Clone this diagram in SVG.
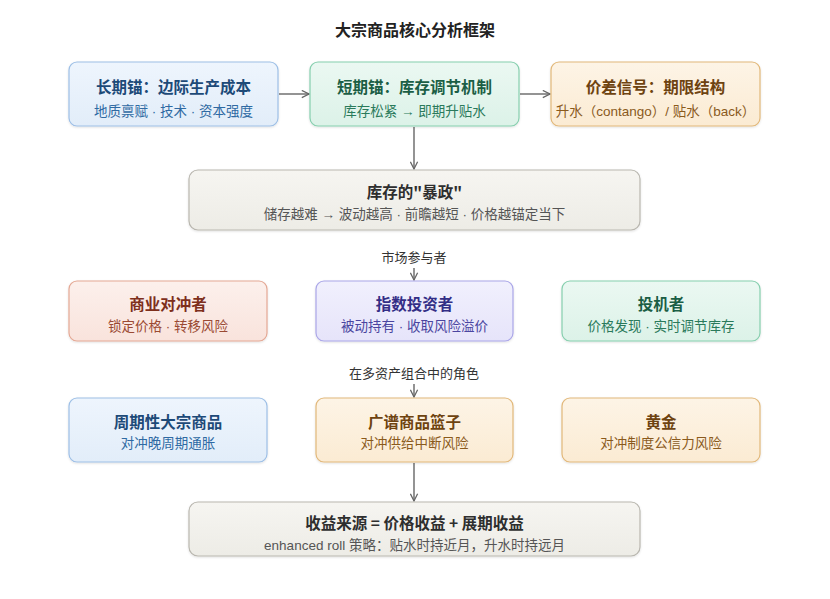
<svg xmlns="http://www.w3.org/2000/svg" width="830" height="599" viewBox="0 0 830 599">
<defs>
<marker id="arr" viewBox="0 0 10 10" refX="9" refY="5" markerWidth="9" markerHeight="9" markerUnits="userSpaceOnUse" orient="auto">
<path d="M1,1 L9,5 L1,9" fill="none" stroke="#666" stroke-width="1.4"/>
</marker>
<filter id="sh" x="-5%" y="-10%" width="110%" height="130%">
<feDropShadow dx="0" dy="1" stdDeviation="1.2" flood-color="#000" flood-opacity="0.12"/>
</filter>
<linearGradient id="gb" x1="0" y1="0" x2="0" y2="1"><stop offset="0" stop-color="#eef5fd"/><stop offset="1" stop-color="#e2edf9"/></linearGradient>
<linearGradient id="gg" x1="0" y1="0" x2="0" y2="1"><stop offset="0" stop-color="#ebf8f2"/><stop offset="1" stop-color="#dcf2e8"/></linearGradient>
<linearGradient id="go" x1="0" y1="0" x2="0" y2="1"><stop offset="0" stop-color="#fdf4e6"/><stop offset="1" stop-color="#fbebd3"/></linearGradient>
<linearGradient id="gy" x1="0" y1="0" x2="0" y2="1"><stop offset="0" stop-color="#f6f5f1"/><stop offset="1" stop-color="#edece6"/></linearGradient>
<linearGradient id="gr" x1="0" y1="0" x2="0" y2="1"><stop offset="0" stop-color="#fcf0ec"/><stop offset="1" stop-color="#f9e3dc"/></linearGradient>
<linearGradient id="gp" x1="0" y1="0" x2="0" y2="1"><stop offset="0" stop-color="#f1f0fd"/><stop offset="1" stop-color="#e6e4fa"/></linearGradient>
</defs>
<style>
text{font-family:"Noto Sans CJK SC","Noto Sans",sans-serif;text-anchor:middle}
.t{font-size:15.5px;font-weight:700}
.s{font-size:13.5px;font-family:"Liberation Sans","Noto Sans CJK SC",sans-serif}
.lab{font-size:13px;fill:#333}
.box{stroke-width:1.2;filter:url(#sh)}
.blue rect{fill:url(#gb);stroke:#9dbfe6}.blue .t{fill:#1d4a78}.blue .s{fill:#2f6aa3}
.green rect{fill:url(#gg);stroke:#86cfae}.green .t{fill:#1b5e45}.green .s{fill:#2a7a5b}
.orange rect{fill:url(#go);stroke:#e2b87a}.orange .t{fill:#6e4310}.orange .s{fill:#8a5a1c}
.gray rect{fill:url(#gy);stroke:#b9b7af}.gray .t{fill:#2e2e2e}.gray .s{fill:#555}
.red rect{fill:url(#gr);stroke:#e4a894}.red .t{fill:#7e2f1c}.red .s{fill:#9a4a33}
.purple rect{fill:url(#gp);stroke:#aaa6e8}.purple .t{fill:#332e86}.purple .s{fill:#4a45a0}
.c{stroke:#666;stroke-width:1.4;fill:none}
</style>
<rect width="830" height="599" fill="#ffffff"/>
<text x="415" y="36" style="font-size:16px;font-weight:700;fill:#222">大宗商品核心分析框架</text>

<g id="connectors">
<line class="c" x1="279" y1="94" x2="309" y2="94" marker-end="url(#arr)"/>
<line class="c" x1="520" y1="94" x2="550" y2="94" marker-end="url(#arr)"/>
<line class="c" x1="414" y1="127" x2="414" y2="169" marker-end="url(#arr)"/>
<line class="c" x1="414" y1="268" x2="414" y2="280" marker-end="url(#arr)"/>
<line class="c" x1="414" y1="384" x2="414" y2="397" marker-end="url(#arr)"/>
<line class="c" x1="414" y1="463" x2="414" y2="501" marker-end="url(#arr)"/>
</g>

<g id="n-long" class="blue"><rect class="box" x="69" y="62" width="209" height="64" rx="8"/><text class="t" x="173.5" y="93">长期锚：边际生产成本</text><text class="s" x="173.5" y="116">地质禀赋 · 技术 · 资本强度</text></g>
<g id="n-short" class="green"><rect class="box" x="310" y="62" width="209" height="64" rx="8"/><text class="t" x="414.5" y="93">短期锚：库存调节机制</text><text class="s" x="414.5" y="116">库存松紧 → 即期升贴水</text></g>
<g id="n-spread" class="orange"><rect class="box" x="551" y="62" width="209" height="64" rx="8"/><text class="t" x="655.5" y="93">价差信号：期限结构</text><text class="s" x="655.5" y="116">升水（contango）/ 贴水（back）</text></g>
<g id="n-inventory" class="gray"><rect class="box" x="189" y="170" width="451" height="60" rx="9"/><text class="t" x="414.5" y="198">库存的"暴政"</text><text class="s" x="414.5" y="219">储存越难 → 波动越高 · 前瞻越短 · 价格越锚定当下</text></g>

<text class="lab" x="414" y="262">市场参与者</text>
<g id="n-hedger" class="red"><rect class="box" x="69" y="281" width="198" height="60" rx="8"/><text class="t" x="168" y="310">商业对冲者</text><text class="s" x="168" y="331">锁定价格 · 转移风险</text></g>
<g id="n-index" class="purple"><rect class="box" x="316" y="281" width="197" height="60" rx="8"/><text class="t" x="414.5" y="310">指数投资者</text><text class="s" x="414.5" y="331">被动持有 · 收取风险溢价</text></g>
<g id="n-spec" class="green"><rect class="box" x="562" y="281" width="198" height="60" rx="8"/><text class="t" x="661" y="310">投机者</text><text class="s" x="661" y="331">价格发现 · 实时调节库存</text></g>

<text class="lab" x="414" y="378">在多资产组合中的角色</text>
<g id="n-cyclical" class="blue"><rect class="box" x="69" y="398" width="198" height="64" rx="8"/><text class="t" x="168" y="428">周期性大宗商品</text><text class="s" x="168" y="448">对冲晚周期通胀</text></g>
<g id="n-basket" class="orange"><rect class="box" x="316" y="398" width="197" height="64" rx="8"/><text class="t" x="414.5" y="428">广谱商品篮子</text><text class="s" x="414.5" y="448">对冲供给中断风险</text></g>
<g id="n-gold" class="orange"><rect class="box" x="562" y="398" width="198" height="64" rx="8"/><text class="t" x="661" y="428">黄金</text><text class="s" x="661" y="448">对冲制度公信力风险</text></g>

<g id="n-return" class="gray"><rect class="box" x="189" y="502" width="451" height="54" rx="9"/><text class="t" x="414.5" y="529">收益来源 = 价格收益 + 展期收益</text><text class="s" x="414.5" y="550">enhanced roll 策略：贴水时持近月，升水时持远月</text></g>
</svg>
